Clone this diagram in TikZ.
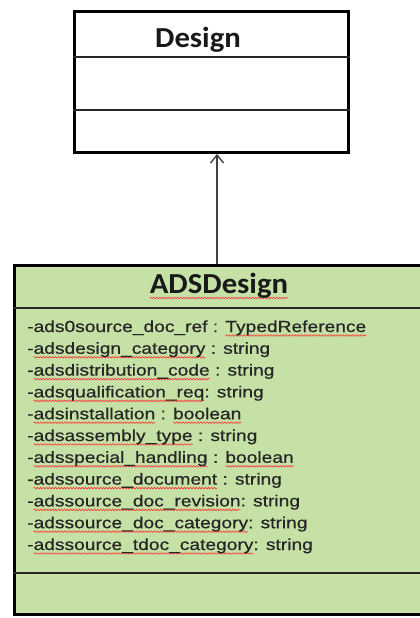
\documentclass[tikz,border=0pt]{standalone}
\usepackage{fontspec}
\setmainfont{Liberation Sans}
\newfontfamily\titlefont[FakeStretch=1.06]{Carlito}
\newfontfamily\attrfont[FakeStretch=1.2,FakeBold=0.6]{Liberation Sans}
\usetikzlibrary{arrows.meta,decorations.pathmorphing}
\definecolor{umlgreen}{HTML}{C6E1A6}
\newsavebox\wavebox
\newlength\wavelen
\tikzset{spellwave/.style={draw=red!80, line width=0.6pt, decorate,
  decoration={snake, amplitude=0.8pt, segment length=3pt}}}
\newcommand\redwave[2][3.5]{\sbox\wavebox{#2}\setlength\wavelen{\wd\wavebox}%
  \tikz[overlay,baseline=0pt,x=1pt,y=1pt]\draw[spellwave] (0,-#1) -- (\wavelen,-#1);%
  \usebox\wavebox}
\begin{document}
\begin{tikzpicture}[x=1pt,y=-1pt,
  classbox/.style={draw=black, line width=2.8pt, inner sep=0pt},
  divider/.style={draw=black!85, line width=1.6pt},
  titletext/.style={font=\titlefont\bfseries\fontsize{29}{30}\selectfont, text=black!90, anchor=base, inner sep=0pt},
  attrtext/.style={font=\attrfont\fontsize{16}{21.8}\selectfont, anchor=base west, inner sep=0pt, text=black!85},
  inherit/.style={draw=black!75, line width=1.6pt, -{Straight Barb[length=8pt,width=13pt,line width=1.4pt]}}]
\useasboundingbox (0,0) rectangle (420,618);
% Design class
\node[classbox, fill=white, minimum width=274pt, minimum height=141pt] (design) at (211.5,82) {};
\draw[divider] (design.west |- 0,57) -- (design.east |- 0,57);
\draw[divider] (design.west |- 0,110) -- (design.east |- 0,110);
\node[titletext] (designtitle) at (198,48) {Design};
% ADSDesign class
\node[classbox, fill=umlgreen, minimum width=415pt, minimum height=349pt] (ads) at (222,440) {};
\draw[divider] (ads.west |- 0,308) -- (ads.east |- 0,308);
\draw[divider] (ads.west |- 0,573) -- (ads.east |- 0,573);
\node[titletext] (adstitle) at (219,293) {\redwave[5]{ADSDesign}};
\node[attrtext] (a1) at (27,332.0) {-ads0source\_doc\_ref : \redwave{TypedReference}};
\node[attrtext] (a2) at (27,353.8) {-\redwave{adsdesign\_category} : string};
\node[attrtext] (a3) at (27,375.6) {-\redwave{adsdistribution\_code} : string};
\node[attrtext] (a4) at (27,397.4) {-\redwave{adsqualification\_req}: string};
\node[attrtext] (a5) at (27,419.2) {-\redwave{adsinstallation} : \redwave{boolean}};
\node[attrtext] (a6) at (27,441.0) {-\redwave{adsassembly\_type} : string};
\node[attrtext] (a7) at (27,462.8) {-\redwave{adsspecial\_handling} : \redwave{boolean}};
\node[attrtext] (a8) at (27,484.6) {-\redwave{adssource\_document} : string};
\node[attrtext] (a9) at (27,506.4) {-\redwave{adssource\_doc\_revision}: string};
\node[attrtext] (a10) at (27,528.2) {-\redwave{adssource\_doc\_category}: string};
\node[attrtext] (a11) at (27,550.0) {-\redwave{adssource\_tdoc\_category}: string};
% generalization
\coordinate (ax) at (217,0);
\draw[inherit] (ads.north -| ax) -- (design.south -| ax);
\end{tikzpicture}
\end{document}
